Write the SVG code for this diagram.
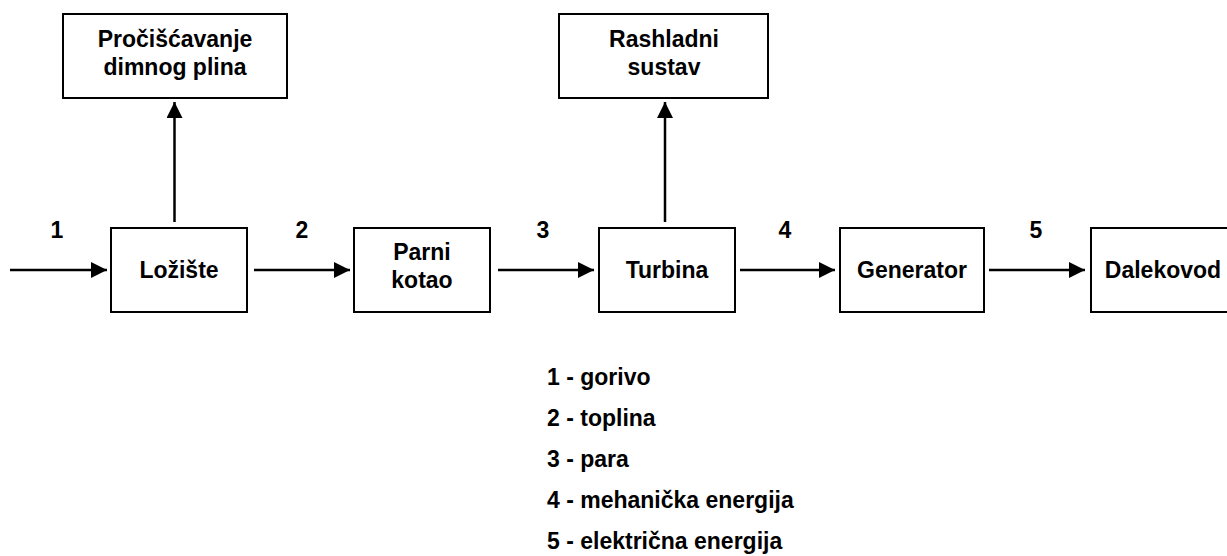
<svg xmlns="http://www.w3.org/2000/svg" width="1227" height="556" viewBox="0 0 1227 556">
<style>
.box{fill:#fff;stroke:#000;stroke-width:2}
.t{font-family:"Liberation Sans",Arial,sans-serif;font-weight:bold;font-size:23px;fill:#000;text-anchor:middle}
.lg{font-family:"Liberation Sans",Arial,sans-serif;font-weight:bold;font-size:23px;fill:#000}
.c{stroke:#000;stroke-width:2.5;fill:none;marker-end:url(#ah)}
</style>
<defs>
<marker id="ah" markerUnits="userSpaceOnUse" markerWidth="18" markerHeight="18" refX="16" refY="8" orient="auto">
<path d="M0,0 L16,8 L0,16 z" fill="#000"/>
</marker>
</defs>
<rect width="1227" height="556" fill="#fff"/>
<g id="connectors">
<line class="c" x1="10" y1="270" x2="107" y2="270"/>
<line class="c" x1="254" y1="270" x2="350" y2="270"/>
<line class="c" x1="498" y1="270" x2="594" y2="270"/>
<line class="c" x1="740" y1="270" x2="835" y2="270"/>
<line class="c" x1="989" y1="270" x2="1085" y2="270"/>
<line class="c" x1="174.5" y1="222" x2="174.5" y2="102"/>
<line class="c" x1="665" y1="222" x2="665" y2="102"/>
<text class="t" x="57" y="238">1</text>
<text class="t" x="302" y="238">2</text>
<text class="t" x="543" y="238">3</text>
<text class="t" x="785" y="238">4</text>
<text class="t" x="1036" y="238">5</text>
</g>
<g id="n-prociscavanje">
<rect class="box" x="63" y="14" width="224" height="84"/>
<text class="t" x="175" y="47">Pročišćavanje</text>
<text class="t" x="175" y="75">dimnog plina</text>
</g>
<g id="n-rashladni">
<rect class="box" x="559" y="14" width="209" height="84"/>
<text class="t" x="664" y="47">Rashladni</text>
<text class="t" x="664" y="75">sustav</text>
</g>
<g id="n-loziste">
<rect class="box" x="111" y="228" width="136" height="84"/>
<text class="t" x="179" y="278">Ložište</text>
</g>
<g id="n-parni">
<rect class="box" x="354" y="228" width="136" height="84"/>
<text class="t" x="422" y="260">Parni</text>
<text class="t" x="422" y="288">kotao</text>
</g>
<g id="n-turbina">
<rect class="box" x="599" y="228" width="136" height="84"/>
<text class="t" x="667" y="278">Turbina</text>
</g>
<g id="n-generator">
<rect class="box" x="840" y="228" width="144" height="84"/>
<text class="t" x="912" y="278">Generator</text>
</g>
<g id="n-dalekovod">
<rect class="box" x="1091" y="228" width="144" height="84"/>
<text class="t" x="1163" y="278">Dalekovod</text>
</g>
<g id="legend">
<text class="lg" x="547" y="385">1 - gorivo</text>
<text class="lg" x="547" y="426">2 - toplina</text>
<text class="lg" x="547" y="467">3 - para</text>
<text class="lg" x="547" y="508">4 - mehanička energija</text>
<text class="lg" x="547" y="549">5 - električna energija</text>
</g>
</svg>
